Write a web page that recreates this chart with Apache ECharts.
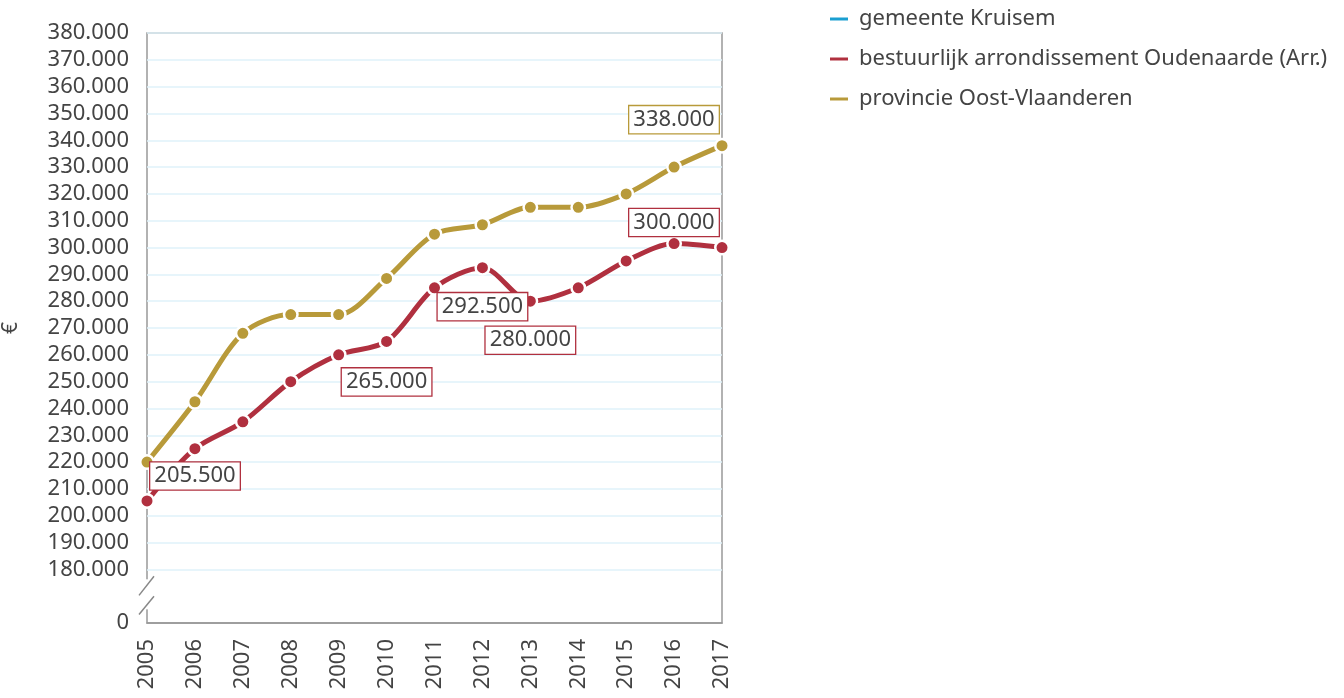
<!DOCTYPE html>
<html>
<head>
<meta charset="utf-8">
<script src="https://cdn.jsdelivr.net/npm/echarts@6/dist/echarts.min.js"></script>
<style>
  html, body { margin: 0; padding: 0; background: #fff; }
  #chart { width: 1344px; height: 698px; }
</style>
</head>
<body>
<div id="chart"></div>
<script>
// Gemiddelde verkoopprijs woonhuizen (€), 2005–2017
const years = ['2005','2006','2007','2008','2009','2010','2011','2012','2013','2014','2015','2016','2017'];
const seriesNames = ['gemeente Kruisem', 'bestuurlijk arrondissement Oudenaarde (Arr.)', 'provincie Oost-Vlaanderen'];
const kruisem = [null, null, null, null, null, null, null, null, null, null, null, null, null];
const oudenaarde = [205500, 225000, 235000, 250000, 260000, 265000, 285000, 292500, 280000, 285000, 295000, 301500, 300000];
const oostVlaanderen = [220000, 242500, 268000, 275000, 275000, 288500, 305000, 308500, 315000, 315000, 320000, 330000, 338000];
// y axis: the lowest tick stands for 0, the axis is broken up to 180.000
const yAxisMin = 160000;
const yAxisMax = 380000;
const yAxisStep = 10000;
const yZeroTick = 160000;
const yHiddenTicks = [170000];

const colors = { blue: '#1a9fd1', red: '#b0303f', gold: '#b89a3a' };
const textColor = '#444';
const fontFamily = '"Noto Sans", "Open Sans", sans-serif';
const symbolSize = 13.5;

function fmt(v) {
  return String(Math.round(v)).replace(/\B(?=(\d{3})+(?!\d))/g, '.');
}

// labelled points: index -> label placement
const redLabels = {
  0: { position: 'top', distance: 3.5, offset: [48, 0] },
  5: { position: 'bottom', distance: 19 },
  7: { position: 'bottom', distance: 17.5 },
  8: { position: 'bottom', distance: 17.5 },
  12: { position: 'top', distance: 3.5, offset: [-48, 0] }
};
const goldLabels = {
  12: { position: 'top', distance: 4.5, offset: [-48, 0] }
};

function buildData(values, labels, color) {
  return values.map((v, i) => {
    const item = { value: v };
    if (labels[i]) {
      item.label = Object.assign({
        show: true,
        formatter: p => fmt(p.value),
        color: textColor,
        fontSize: 22,
        fontFamily: fontFamily,
        backgroundColor: '#fff',
        borderColor: color,
        borderWidth: 1.3,
        padding: [0, 4, 0, 4],
        lineHeight: 27
      }, labels[i]);
    }
    return item;
  });
}

// split lines only from 180.000 upwards
const splitColors = [];
for (let v = yAxisMin; v <= yAxisMax; v += yAxisStep) {
  splitColors.push(v < 180000 ? 'rgba(0,0,0,0)' : '#dff2fa');
}

function lineSeries(name, values, labels, color) {
  return {
    name: name,
    type: 'line',
    data: buildData(values, labels, color),
    smooth: 0.3,
    symbol: 'circle',
    symbolSize: symbolSize,
    lineStyle: { color: color, width: 5 },
    itemStyle: { color: color, borderColor: '#fff', borderWidth: 2.5 },
    emphasis: { disabled: true },
    animation: false
  };
}

const chart = echarts.init(document.getElementById('chart'), null, { renderer: 'canvas' });

chart.setOption({
  animation: false,
  color: [colors.blue, colors.red, colors.gold],
  textStyle: { fontFamily: fontFamily },
  grid: {
    left: 145, right: 622, top: 33, bottom: 75,
    show: true, borderColor: '#999', borderWidth: 1.5, backgroundColor: 'transparent'
  },
  legend: {
    orient: 'vertical',
    left: 828, top: 8, padding: 0,
    itemWidth: 20, itemHeight: 5, itemGap: 18,
    icon: 'rect',
    data: seriesNames,
    textStyle: { color: textColor, fontSize: 22, fontFamily: fontFamily, padding: [0, 0, 0, 5] }
  },
  xAxis: {
    type: 'category',
    data: years,
    boundaryGap: false,
    axisLine: { show: true, lineStyle: { color: '#999', width: 1.5 } },
    axisTick: { show: false },
    splitLine: { show: false },
    axisLabel: { rotate: 90, margin: 16, color: textColor, fontSize: 22, fontFamily: fontFamily }
  },
  yAxis: {
    type: 'value',
    min: yAxisMin, max: yAxisMax, interval: yAxisStep,
    name: '€',
    nameLocation: 'middle',
    nameGap: 125,
    nameRotate: 90,
    nameTextStyle: { color: textColor, fontSize: 21, fontFamily: fontFamily },
    axisLine: { show: false },
    axisTick: { show: false },
    splitLine: { show: true, lineStyle: { color: splitColors, width: 1.5 } },
    axisLabel: {
      margin: 18, color: textColor, fontSize: 22, fontFamily: fontFamily,
      formatter: v => (v === yZeroTick ? '0' : (yHiddenTicks.indexOf(v) >= 0 ? '' : fmt(v)))
    }
  },
  series: [
    lineSeries(seriesNames[0], kruisem, {}, colors.blue),
    lineSeries(seriesNames[2], oostVlaanderen, goldLabels, colors.gold),
    lineSeries(seriesNames[1], oudenaarde, redLabels, colors.red)
  ]
});

// axis break marks on the left axis between 0 and 180.000
(function drawBreak() {
  const x0 = chart.convertToPixel({ xAxisIndex: 0 }, 0);
  const y180 = chart.convertToPixel({ yAxisIndex: 0 }, 180000);
  const y170 = chart.convertToPixel({ yAxisIndex: 0 }, 170000);
  const u = y170 - y180;
  chart.setOption({
    graphic: [
      { type: 'rect', z: 100, shape: { x: x0 - 3, y: y180 + 0.37 * u, width: 6, height: 1.12 * u },
        style: { fill: '#fff' } },
      { type: 'line', z: 101, shape: { x1: x0 - 8, y1: y180 + 0.97 * u, x2: x0 + 7, y2: y180 + 0.26 * u },
        style: { stroke: '#888', lineWidth: 1.5 } },
      { type: 'line', z: 101, shape: { x1: x0 - 8, y1: y180 + 1.68 * u, x2: x0 + 7, y2: y180 + 1.0 * u },
        style: { stroke: '#888', lineWidth: 1.5 } }
    ]
  });
})();
</script>
</body>
</html>
